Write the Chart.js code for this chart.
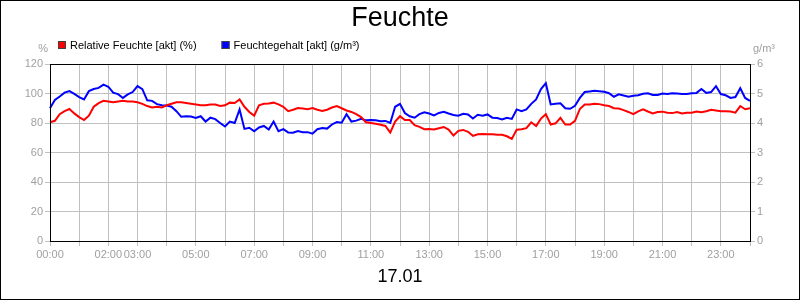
<!DOCTYPE html>
<html>
<head>
<meta charset="utf-8">
<script src="https://cdn.jsdelivr.net/npm/chart.js@4.4.1/dist/chart.umd.min.js"></script>
<style>
  html, body { margin: 0; padding: 0; background: #fff; }
</style>
</head>
<body>
<canvas id="myChart" width="800" height="300"></canvas>
<script>
// 10-minute readings, 00:00 .. 24:00
const times = [
  "00:00","00:10","00:20","00:30","00:40","00:50","01:00","01:10","01:20","01:30","01:40","01:50",
  "02:00","02:10","02:20","02:30","02:40","02:50","03:00","03:10","03:20","03:30","03:40","03:50",
  "04:00","04:10","04:20","04:30","04:40","04:50","05:00","05:10","05:20","05:30","05:40","05:50",
  "06:00","06:10","06:20","06:30","06:40","06:50","07:00","07:10","07:20","07:30","07:40","07:50",
  "08:00","08:10","08:20","08:30","08:40","08:50","09:00","09:10","09:20","09:30","09:40","09:50",
  "10:00","10:10","10:20","10:30","10:40","10:50","11:00","11:10","11:20","11:30","11:40","11:50",
  "12:00","12:10","12:20","12:30","12:40","12:50","13:00","13:10","13:20","13:30","13:40","13:50",
  "14:00","14:10","14:20","14:30","14:40","14:50","15:00","15:10","15:20","15:30","15:40","15:50",
  "16:00","16:10","16:20","16:30","16:40","16:50","17:00","17:10","17:20","17:30","17:40","17:50",
  "18:00","18:10","18:20","18:30","18:40","18:50","19:00","19:10","19:20","19:30","19:40","19:50",
  "20:00","20:10","20:20","20:30","20:40","20:50","21:00","21:10","21:20","21:30","21:40","21:50",
  "22:00","22:10","22:20","22:30","22:40","22:50","23:00","23:10","23:20","23:30","23:40","23:50",
  "24:00"
];

// Relative Feuchte [%]
const relFeuchte = [
  80.5, 81.5, 86, 88, 89.5, 86.5, 84, 82, 85, 91, 93.5, 95,
  94.5, 94, 94.5, 95, 94.5, 94.5, 94, 93, 91.5, 90.5, 91, 90.5,
  92, 93, 94, 94, 93.5, 93, 92.5, 92, 92, 92.5, 92.5, 91.5,
  92, 93.8, 93.5, 96, 91, 87.5, 85, 92, 93, 93.2, 93.8, 92.6,
  91, 88, 89, 90.2, 89.8, 89.4, 90.2, 89, 88.2, 89, 90.5, 91.5,
  90, 88.5, 87.5, 86, 84, 80.5, 80, 79.5, 78.8, 78, 73.5, 81,
  84.6, 82, 82, 78.5, 77.4, 75.8, 76, 75.6, 76.5, 77.3, 75.5, 71.5,
  74.7, 75.3, 74, 71.3, 72.4, 72.5, 72.4, 72.3, 72, 72, 71, 69.2,
  75.5, 75.8, 76.5, 80.5, 78, 83, 86, 79, 79.8, 83.5, 79, 79,
  81.5, 89.5, 92.5, 92.6, 93, 92.8, 92, 91.5, 90, 89.8, 88.7, 87.5,
  86, 87.9, 89.2, 87.8, 86.5, 87.5, 87.7, 86.9, 86.7, 87.5, 86.4, 86.9,
  86.9, 87.8, 87.3, 88, 89, 88.5, 88, 88, 87.8, 87, 91.5, 89.3,
  90
];

// Feuchtegehalt [g/m³]
const feuchtegehalt = [
  4.50, 4.78, 4.90, 5.03, 5.08, 4.99, 4.88, 4.80, 5.08, 5.15, 5.19, 5.30,
  5.23, 5.03, 4.98, 4.85, 4.97, 5.05, 5.25, 5.15, 4.77, 4.75, 4.64, 4.60,
  4.59, 4.55, 4.40, 4.21, 4.23, 4.22, 4.17, 4.23, 4.05, 4.18, 4.13, 4.00,
  3.88, 4.05, 4.00, 4.46, 3.80, 3.84, 3.72, 3.85, 3.90, 3.78, 4.05, 3.72,
  3.79, 3.68, 3.67, 3.73, 3.69, 3.69, 3.64, 3.79, 3.83, 3.81, 3.95, 4.03,
  4.01, 4.30, 4.05, 4.08, 4.14, 4.09, 4.10, 4.09, 4.06, 4.07, 4.00, 4.55,
  4.65, 4.34, 4.23, 4.18, 4.30, 4.36, 4.32, 4.26, 4.34, 4.38, 4.32, 4.27,
  4.25, 4.31, 4.29, 4.15, 4.28, 4.25, 4.29, 4.18, 4.17, 4.12, 4.18, 4.14,
  4.46, 4.40, 4.46, 4.65, 4.80, 5.15, 5.35, 4.63, 4.65, 4.67, 4.50, 4.48,
  4.58, 4.85, 5.05, 5.07, 5.09, 5.08, 5.06, 5.01, 4.89, 4.97, 4.93, 4.89,
  4.92, 4.94, 4.99, 5.01, 4.95, 4.95, 5.00, 4.98, 5.01, 5.00, 4.98, 4.98,
  5.01, 5.02, 5.15, 5.02, 5.05, 5.25, 4.98, 4.94, 4.85, 4.88, 5.18, 4.85,
  4.75
];

// labels written under the x axis
const shownTimes = ["00:00","02:00","03:00","05:00","07:00","09:00","11:00",
  "13:00","15:00","17:00","19:00","21:00","23:00"];

const FONT = "'Liberation Sans', Arial, sans-serif";
const GRID = "#c0c0c0";
const TICK_TEXT = "#a0a0a0";

const isHour = (i) => times[i] && times[i].endsWith(":00");

// frame, legend, unit labels
const extras = {
  id: "extras",
  afterDraw(chart) {
    const { ctx, chartArea: a } = chart;
    ctx.save();
    ctx.strokeStyle = "#000";
    ctx.lineWidth = 1;
    ctx.strokeRect(a.left + 0.5, a.top + 0.5, a.right - a.left, a.bottom - a.top);
    ctx.strokeRect(0.5, 0.5, 799, 299);

    ctx.font = "11px " + FONT;
    ctx.textBaseline = "alphabetic";
    ctx.textAlign = "left";
    let x = a.left + 8;
    chart.data.datasets.forEach((ds) => {
      ctx.fillStyle = ds.borderColor;
      ctx.fillRect(x, 41, 8, 8);
      ctx.strokeStyle = "#404040";
      ctx.strokeRect(x + 0.5, 41.5, 7, 7);
      ctx.fillStyle = "#000";
      ctx.fillText(ds.label, x + 12, 49);
      x += 12 + ctx.measureText(ds.label).width + 25;
    });

    ctx.fillStyle = TICK_TEXT;
    ctx.textAlign = "right";
    ctx.fillText("%", a.left - 2, 52);
    ctx.textAlign = "left";
    ctx.fillText("g/m³", a.right + 3, 52);
    ctx.restore();
  },
};

const ctx = document.getElementById("myChart").getContext("2d");
new Chart(ctx, {
  type: "line",
  data: {
    labels: times,
    datasets: [
      {
        label: "Relative Feuchte [akt] (%)",
        data: relFeuchte,
        borderColor: "#ff0000",
        backgroundColor: "#ff0000",
        borderWidth: 2,
        pointRadius: 0,
        tension: 0,
        fill: false,
        yAxisID: "y",
      },
      {
        label: "Feuchtegehalt [akt] (g/m³)",
        data: feuchtegehalt,
        borderColor: "#0000ff",
        backgroundColor: "#0000ff",
        borderWidth: 2,
        pointRadius: 0,
        tension: 0,
        fill: false,
        yAxisID: "y1",
      },
    ],
  },
  options: {
    responsive: false,
    animation: false,
    devicePixelRatio: 1,
    layout: { padding: 0 },
    plugins: {
      legend: { display: false },
      tooltip: { enabled: false },
      title: {
        display: true,
        text: "Feuchte",
        color: "#000",
        font: { family: FONT, size: 27, weight: "normal" },
        padding: { top: 2, bottom: 29.6 },
      },
      subtitle: {
        display: true,
        position: "bottom",
        text: "17.01",
        color: "#000",
        font: { family: FONT, size: 18, weight: "normal" },
        padding: { top: 5.4, bottom: 12 },
      },
    },
    scales: {
      x: {
        type: "category",
        offset: false,
        afterFit(scale) { scale.height = 20; },
        border: { display: false },
        grid: {
          color: (c) => (isHour(c.index) ? GRID : "rgba(0,0,0,0)"),
          tickColor: (c) => (isHour(c.index) ? GRID : "rgba(0,0,0,0)"),
          tickLength: 5,
        },
        ticks: {
          autoSkip: false,
          maxRotation: 0,
          minRotation: 0,
          padding: 2,
          color: TICK_TEXT,
          font: { family: FONT, size: 11 },
          callback: (value, index) => (shownTimes.includes(times[index]) ? times[index] : ""),
        },
      },
      y: {
        position: "left",
        min: 0,
        max: 120,
        afterFit(scale) { scale.width = 50; },
        border: { display: false },
        grid: { color: GRID, tickColor: GRID, tickLength: 5 },
        ticks: {
          stepSize: 20,
          padding: 2,
          color: TICK_TEXT,
          font: { family: FONT, size: 11 },
        },
      },
      y1: {
        position: "right",
        min: 0,
        max: 6,
        afterFit(scale) { scale.width = 50; },
        border: { display: false },
        grid: { drawOnChartArea: false, tickColor: GRID, tickLength: 5 },
        ticks: {
          stepSize: 1,
          padding: 2,
          color: TICK_TEXT,
          font: { family: FONT, size: 11 },
        },
      },
    },
  },
  plugins: [extras],
});
</script>
</body>
</html>
